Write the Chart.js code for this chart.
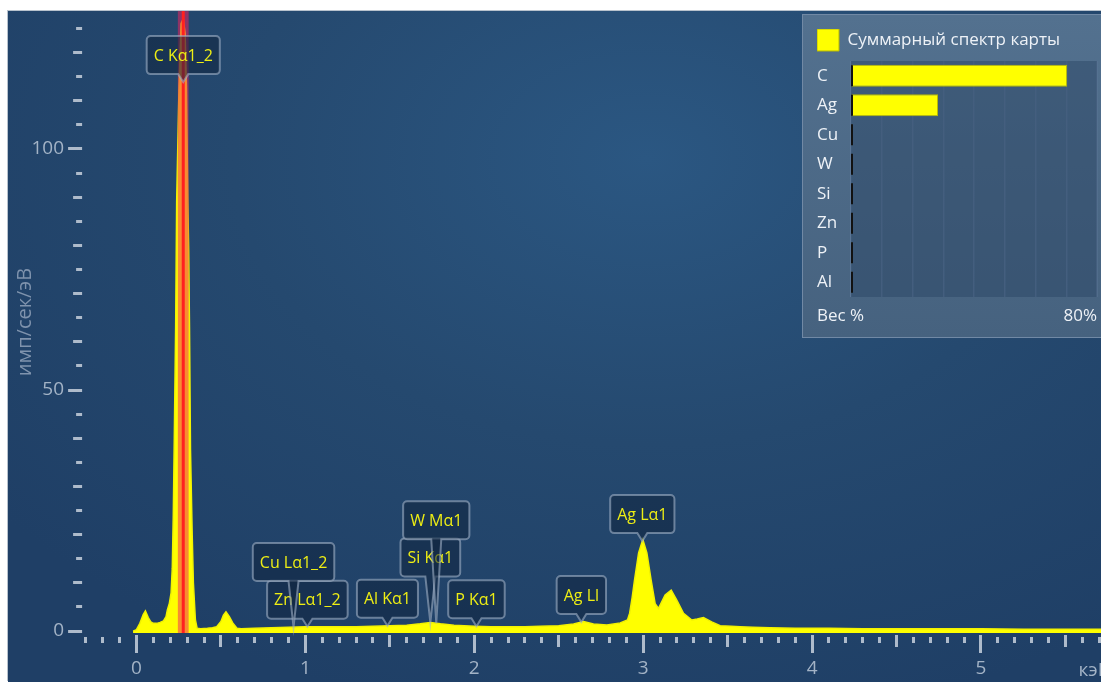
<!DOCTYPE html>
<html lang="ru">
<head>
<meta charset="utf-8">
<title>Суммарный спектр карты</title>
<script src="https://cdn.jsdelivr.net/npm/chart.js@4.4.1/dist/chart.umd.min.js"></script>
<style>
  html, body { margin: 0; padding: 0; background: #ffffff; overflow: hidden; width: 1101px; height: 682px; }
  #plotBox {
    position: absolute; left: 8px; top: 11px; width: 1102px; height: 671px;
    background: radial-gradient(ellipse 75% 85% at 58% 22%, #2b5782 0%, #25496f 50%, #1f3f66 100%);
    box-shadow: -1px -1px 0 #b8c2cd;
  }
  #panel {
    position: absolute; left: 802px; top: 14px; width: 298px; height: 322px;
    border: 1px solid #7189a5;
    background: linear-gradient(#53718f, #46627f);
  }
  canvas { display: block; }
</style>
</head>
<body>
<div id="plotBox"><canvas id="spectrum" width="1102" height="671"></canvas></div>
<div id="panel"><canvas id="weights" width="298" height="322"></canvas></div>
<script>
// ---- EDS sum spectrum (energy in keV, counts in imp/s/eV) ----
const energyKeV = [
  -0.02, 0.00, 0.02, 0.04, 0.053, 0.07, 0.085, 0.10, 0.12, 0.14,
  0.16, 0.175, 0.183, 0.195, 0.205, 0.212, 0.218, 0.224, 0.232, 0.238,
  0.252, 0.264, 0.277, 0.288, 0.296, 0.304, 0.309, 0.314, 0.320, 0.330,
  0.337, 0.349, 0.359, 0.38, 0.42, 0.45, 0.475, 0.50, 0.515, 0.53,
  0.55, 0.57, 0.595, 0.62, 0.70, 0.80, 0.90, 1.00, 1.10, 1.20,
  1.30, 1.40, 1.50, 1.60, 1.68, 1.74, 1.80, 1.88, 2.00, 2.10,
  2.20, 2.30, 2.39, 2.50, 2.588, 2.647, 2.706, 2.785, 2.864, 2.907,
  2.92, 2.935, 2.949, 2.973, 2.998, 3.022, 3.047, 3.071, 3.091, 3.130,
  3.166, 3.199, 3.239, 3.288, 3.320, 3.357, 3.406, 3.456, 3.52, 3.574,
  3.65, 3.75, 3.90, 4.10, 4.30, 4.50, 4.75, 5.00, 5.25, 5.50, 5.78
];
const counts = [
  0, 0.3, 1.6, 3.4, 4.2, 2.8, 1.9, 1.6, 1.6, 1.8,
  2.1, 3.0, 4.4, 5.8, 7.9, 13, 24, 40, 63, 89,
  113, 126, 127, 124, 113, 89, 79, 63, 37.5, 20,
  10, 2.3, 0.6, 0.5, 0.6, 0.7, 0.9, 2.0, 3.3, 4.0,
  3.0, 1.7, 0.6, 0.5, 0.6, 0.7, 0.8, 0.9, 0.9, 0.9,
  0.9, 1.0, 1.1, 1.2, 1.5, 1.8, 1.5, 1.2, 1.0, 0.9,
  0.9, 0.9, 1.0, 1.1, 1.45, 2.0, 1.45, 1.25, 1.7, 2.3,
  3.7, 7.0, 10.6, 16.2, 19.0, 16.2, 10.6, 5.7, 4.7, 7.5,
  8.5, 6.4, 3.7, 2.3, 2.5, 2.8, 1.9, 1.1, 1.0, 0.9,
  0.8, 0.7, 0.6, 0.6, 0.5, 0.5, 0.5, 0.5, 0.4, 0.4, 0.4
];

// Identified lines: label, energy (keV), stacking row of the callout
const lineNames    = ['C Kα1_2', 'Cu Lα1_2', 'Zn Lα1_2', 'Al Kα1', 'Si Kα1', 'W Mα1', 'P Kα1', 'Ag Ll', 'Ag Lα1'];
const lineEnergies = [0.277, 0.930, 1.012, 1.486, 1.740, 1.775, 2.013, 2.634, 2.995];
const lineRows     = [0, 1, 0, 0, 1, 2, 0, 0, 0];

// Highlighted element marker (C Kα) and its energy window half-width
const markerEnergies = [0.277];
const markerHalfWidth = 0.032;

// Weight % panel
const elements = ['C', 'Ag', 'Cu', 'W', 'Si', 'Zn', 'P', 'Al'];
const weightPct = [70.3, 28.3, 0.4, 0.3, 0.3, 0.2, 0.1, 0.1];

// ---- styling ----
const sans = '"Open Sans", sans-serif';
const axisColor = '#a3b3c6';
const tickColor = '#aebbcb';

function countsAt(e) {
  for (let i = 1; i < energyKeV.length; i++) {
    if (energyKeV[i] >= e) {
      const t = (e - energyKeV[i - 1]) / (energyKeV[i] - energyKeV[i - 1]);
      return counts[i - 1] + t * (counts[i] - counts[i - 1]);
    }
  }
  return counts[counts.length - 1];
}

// Red line + translucent window for the selected element
const markerPlugin = {
  id: 'elementMarker',
  afterDatasetsDraw(chart) {
    const { ctx, chartArea: a, scales: { x } } = chart;
    ctx.save();
    ctx.beginPath();
    ctx.rect(a.left, a.top, a.right - a.left, a.bottom - a.top);
    ctx.clip();
    markerEnergies.forEach(e => {
      const l = x.getPixelForValue(e - markerHalfWidth);
      const r = x.getPixelForValue(e + markerHalfWidth);
      ctx.fillStyle = 'rgba(240,34,96,0.52)';
      ctx.fillRect(l, a.top, r - l, a.bottom - a.top);
      const c = x.getPixelForValue(e);
      ctx.fillStyle = '#ff2020';
      ctx.fillRect(c - 1.5, a.top, 3, a.bottom - a.top);
    });
    ctx.restore();
  }
};

// Callout boxes pointing at the identified lines
const calloutPlugin = {
  id: 'lineCallouts',
  afterDatasetsDraw(chart) {
    const { ctx, chartArea: a, scales: { x, y } } = chart;
    const rowH = 38, boxH = 38, gap = 8, r = 4, half = 5;
    ctx.save();
    ctx.font = '16px ' + sans;
    const order = lineNames.map((_, i) => i).sort((p, q) => lineRows[p] - lineRows[q]);
    order.forEach(i => {
      const px = x.getPixelForValue(lineEnergies[i]);
      let tipY = y.getPixelForValue(countsAt(lineEnergies[i]));
      tipY = Math.max(tipY, a.top + 71);
      const text = lineNames[i];
      const bw = ctx.measureText(text).width + 14;
      const bottom = tipY - gap - lineRows[i] * rowH;
      const top = bottom - boxH;
      const left = px - bw / 2, right = px + bw / 2;
      ctx.beginPath();
      ctx.moveTo(left + r, top);
      ctx.lineTo(right - r, top);
      ctx.arcTo(right, top, right, top + r, r);
      ctx.lineTo(right, bottom - r);
      ctx.arcTo(right, bottom, right - r, bottom, r);
      ctx.lineTo(px + half, bottom);
      ctx.lineTo(px, tipY);
      ctx.lineTo(px - half, bottom);
      ctx.lineTo(left + r, bottom);
      ctx.arcTo(left, bottom, left, bottom - r, r);
      ctx.lineTo(left, top + r);
      ctx.arcTo(left, top, left + r, top, r);
      ctx.closePath();
      ctx.fillStyle = 'rgba(16,36,62,0.55)';
      ctx.fill();
      ctx.lineWidth = 2;
      ctx.strokeStyle = 'rgba(160,176,198,0.6)';
      ctx.stroke();
      ctx.fillStyle = '#eeee14';
      ctx.textAlign = 'center';
      ctx.textBaseline = 'middle';
      ctx.fillText(text, px, top + boxH / 2 + 1);
    });
    ctx.restore();
  }
};

new Chart(document.getElementById('spectrum'), {
  type: 'line',
  data: {
    datasets: [{
      label: 'Суммарный спектр карты',
      data: energyKeV.map((e, i) => ({ x: e, y: counts[i] })),
      fill: 'start',
      backgroundColor: '#ffff00',
      borderColor: '#f2f200',
      borderWidth: 1.5,
      pointRadius: 0,
      tension: 0
    }]
  },
  options: {
    responsive: false,
    devicePixelRatio: 1,
    animation: false,
    layout: { padding: 0 },
    plugins: { legend: { display: false }, tooltip: { enabled: false } },
    scales: {
      x: {
        type: 'linear',
        min: -0.31,
        max: 5.764,
        ticks: {
          stepSize: 0.1, includeBounds: false, autoSkip: false, maxRotation: 0,
          padding: 0, color: axisColor, font: { family: sans, size: 19, lineHeight: '32px' },
          callback: v => Math.abs(v - Math.round(v)) < 1e-6 ? String(Math.round(v)) : ''
        },
        grid: {
          drawOnChartArea: false, tickLength: 20, tickColor: tickColor, tickWidth: 3,
          tickBorderDash: c => {
            const k = Math.round((c.tick ? c.tick.value : 0) * 10);
            if (k % 10 === 0) return [0, 2, 18, 100];
            if (k % 5 === 0) return [0, 2, 12, 100];
            return [0, 4, 6, 100];
          }
        },
        border: { display: false },
        title: { display: true, text: 'кэВ', align: 'end', color: axisColor, font: { family: sans, size: 19 }, padding: 0 },
        afterFit(s) { s.height = 49; }
      },
      y: {
        min: -0.4,
        max: 128.6,
        ticks: {
          stepSize: 5, includeBounds: false, autoSkip: false, padding: 0,
          color: axisColor, font: { family: sans, size: 19, lineHeight: 0.01 },
          callback: v => v % 50 === 0 ? String(v) : ''
        },
        grid: {
          drawOnChartArea: false, tickLength: 20, tickColor: tickColor, tickWidth: 3,
          tickBorderDash: c => {
            const v = c.tick ? c.tick.value : 0;
            const L = v % 50 === 0 ? 14 : (v % 10 === 0 ? 9 : 6);
            return [0, 18 - L, L, 100];
          }
        },
        border: { display: false },
        title: { display: true, text: 'имп/сек/эВ', color: '#7f93ad', font: { family: sans, size: 20 }, padding: { top: 5, bottom: 0 } },
        afterFit(s) { s.width = 76.1; }
      }
    }
  },
  plugins: [markerPlugin, calloutPlugin]
});

// ---- weight % panel ----
const panelFont = { family: sans, size: 17 };
const footerGap = 19;
const panelPlugin = {
  id: 'panelDecor',
  beforeDatasetsDraw(chart) {
    const { ctx, chartArea: a } = chart;
    ctx.save();
    ctx.fillStyle = 'rgba(40,66,98,0.45)';
    ctx.fillRect(a.left, a.top, a.right - a.left, a.bottom - a.top);
    ctx.restore();
  },
  afterDatasetsDraw(chart) {
    const { ctx, scales: { x, y } } = chart;
    ctx.save();
    ctx.strokeStyle = '#121212';
    ctx.lineWidth = 2;
    const x0 = x.getPixelForValue(0) + 1;
    elements.forEach((_, i) => {
      const c = y.getPixelForValue(i);
      ctx.beginPath();
      ctx.moveTo(x0, c - 10.5);
      ctx.lineTo(x0, c + 10.5);
      ctx.stroke();
    });
    ctx.fillStyle = '#eef2f7';
    ctx.font = `${panelFont.size}px ${panelFont.family}`;
    ctx.textAlign = 'left';
    ctx.textBaseline = 'middle';
    ctx.fillText('Вес %', y.left, x.top + footerGap);
    ctx.restore();
  }
};

new Chart(document.getElementById('weights'), {
  type: 'bar',
  data: {
    labels: elements,
    datasets: [{
      label: 'Суммарный спектр карты',
      data: weightPct,
      backgroundColor: '#ffff00',
      borderColor: '#b9b900',
      borderWidth: 1,
      barPercentage: 0.75,
      categoryPercentage: 1
    }]
  },
  options: {
    indexAxis: 'y',
    responsive: false,
    devicePixelRatio: 1,
    animation: false,
    layout: { padding: { left: 14, right: 4, top: 14, bottom: 0 } },
    plugins: {
      legend: {
        align: 'start',
        labels: { boxWidth: 22, boxHeight: 22, padding: 0, color: '#eef2f7', font: panelFont }
      },
      tooltip: { enabled: false }
    },
    scales: {
      x: {
        min: 0, max: 80,
        ticks: {
          stepSize: 10, align: 'inner', autoSkip: false, maxRotation: 0, padding: 0,
          color: '#eef2f7', font: { family: sans, size: 17, lineHeight: (footerGap * 2) + 'px' },
          callback: v => v === 80 ? '80%' : ''
        },
        grid: { color: '#5b7696', lineWidth: 1.5, drawTicks: false },
        border: { display: false },
        afterFit(s) { s.height = 40; }
      },
      y: {
        ticks: { crossAlign: 'far', autoSkip: false, color: '#eef2f7', font: panelFont },
        grid: { display: false },
        border: { display: false },
        afterFit(s) { s.width = 34; }
      }
    }
  },
  plugins: [panelPlugin]
});
</script>
</body>
</html>
